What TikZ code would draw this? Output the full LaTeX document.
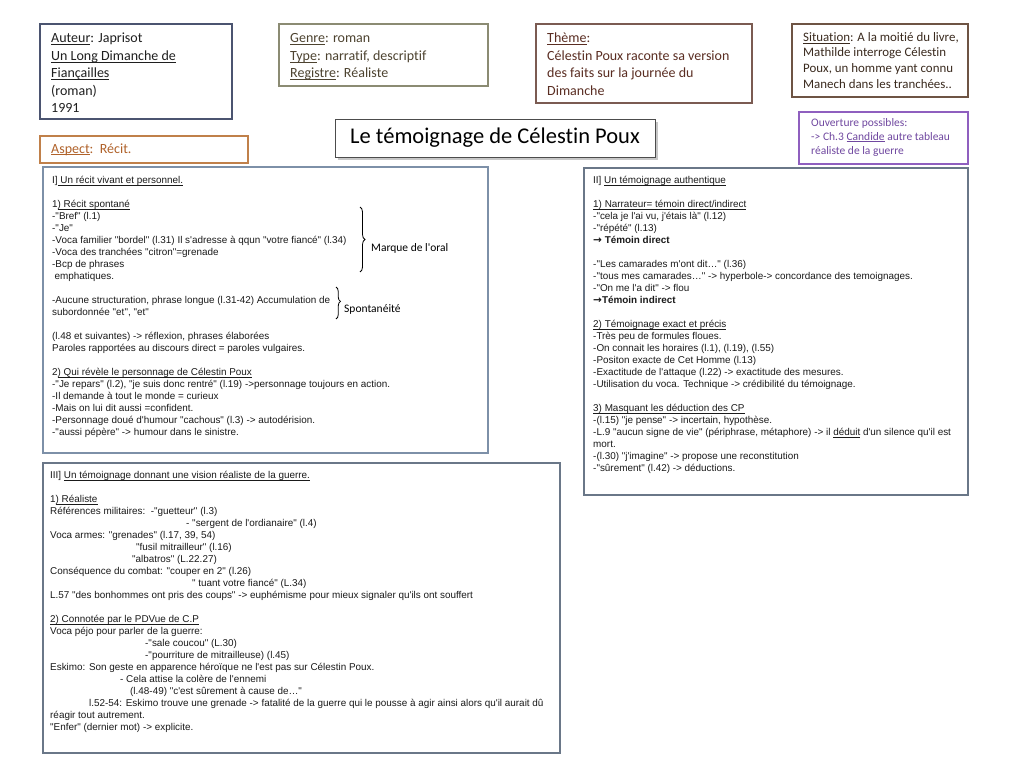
\documentclass[tikz,border=0pt]{standalone}
\usepackage{fontspec}
\newfontfamily\arialf{Liberation Sans}
\newfontfamily\calib[Ligatures=NoCommon]{Carlito}
\newfontfamily\dejav{DejaVu Sans}
\usetikzlibrary{decorations.pathreplacing,shadows}
\newcommand\ulx[2][1.6pt]{\leavevmode\setbox0=\hbox{#2}\rlap{\rule[-#1]{\wd0}{0.55pt}}\box0\relax}
\newcommand\barrow{{\dejav\bfseries\fontsize{10.5}{12}\selectfont →}}
\definecolor{bAut}{HTML}{4B5470}
\definecolor{tAut}{HTML}{1F1F1F}
\definecolor{bGen}{HTML}{8B8B73}
\definecolor{tGen}{HTML}{4D4330}
\definecolor{bThe}{HTML}{7B5B52}
\definecolor{tThe}{HTML}{5A2D22}
\definecolor{bSit}{HTML}{6E5444}
\definecolor{tSit}{HTML}{3A2A1E}
\definecolor{bOuv}{HTML}{8F5FBF}
\definecolor{tOuv}{HTML}{7048A0}
\definecolor{bAsp}{HTML}{C0804A}
\definecolor{tAsp}{HTML}{B0622A}
\definecolor{bMain}{HTML}{7D90A8}
\definecolor{bMainB}{HTML}{6A7788}
\definecolor{tMain}{HTML}{1A1A1A}
\tikzset{
  frame/.style={line width=1.1pt},
  atext/.style={font=\arialf\fontsize{9.9}{12}\selectfont, align=left, inner sep=0pt, text=tMain, anchor=north west},
  ctext/.style={font=\calib\fontsize{14}{17.4}\selectfont, align=left, inner sep=0pt, anchor=north west},
  bracemark/.style={decorate, line width=0.8pt},
  bracelabel/.style={font=\calib\fontsize{11.5}{13}\selectfont, inner sep=0pt, anchor=base west}
}
\begin{document}
\begin{tikzpicture}[x=1pt,y=-1pt]
\fill[white] (0,0) rectangle (1024,768);
\useasboundingbox (0,0) rectangle (1024,768);

% top boxes
\draw[frame, draw=bAut] (40,24) rectangle (232,119);
\node[ctext, text=tAut] (auteur) at (51,30.5) {\strut\ulx[2pt]{Auteur}: Japrisot\\
\ulx[2pt]{Un Long Dimanche de}\\
\ulx[2pt]{Fiançailles}\\
(roman)\\
1991};

\draw[frame, draw=bAsp] (40,136) rectangle (248,163);
\node[font=\calib\fontsize{14}{15}\selectfont, inner sep=0pt, anchor=base west, text=tAsp] (aspect) at (51,153) {\ulx[2pt]{Aspect}:\ \ Récit.};

\draw[frame, draw=bGen] (279,24) rectangle (488,86);
\node[ctext, text=tGen] (genre) at (290,30.5) {\strut\ulx[2pt]{Genre}: roman\\
\ulx[2pt]{Type}: narratif, descriptif\\
\ulx[2pt]{Registre}: Réaliste};

\draw[frame, draw=bThe] (536,24) rectangle (752,103);
\node[ctext, text=tThe] (theme) at (547,30.5) {\strut\ulx[2pt]{Thème}:\\
Célestin Poux raconte sa version\\
des faits sur la journée du\\
Dimanche};

\draw[frame, draw=bSit] (792,24) rectangle (968,97);
\node[ctext, font=\calib\fontsize{12.9}{15.7}\selectfont, text=tSit] (situation) at (803,30) {\strut\ulx[2pt]{Situation}: A la moitié du livre,\\
Mathilde interroge Célestin\\
Poux, un homme yant connu\\
Manech dans les tranchées..};

\draw[frame, draw=bOuv] (799,112) rectangle (968,164);
\node[ctext, font=\calib\fontsize{11.5}{14}\selectfont, text=tOuv] (ouverture) at (811,116) {\strut Ouverture possibles:\\
-> Ch.3 \ulx[1.8pt]{Candide} autre tableau\\
réaliste de la guerre};

% title
\node[draw=black!70, line width=1pt, fill=white, minimum width=320pt, minimum height=38pt, inner sep=0pt,
      drop shadow={shadow xshift=2.5pt, shadow yshift=-2.5pt, opacity=0.4, fill=black!55},
      font=\calib\fontsize{22.5}{26}\selectfont] (title) at (495,138) {Le témoignage de Célestin Poux};

% main boxes
\draw[frame, draw=bMain] (43,167) rectangle (488,453);
\node[atext] (partI) at (52,175) {\strut I]\ulx{ Un récit vivant et personnel.}\\[12pt]
1\ulx{) Récit spontané}\\
-"Bref" (l.1)\\
-"Je"\\
-Voca familier "bordel" (l.31) Il s'adresse à qqun "votre fiancé" (l.34)\\
-Voca des tranchées "citron"=grenade\\
-Bcp de phrases\\
\hspace*{2.5pt}emphatiques.\\[12pt]
-Aucune structuration, phrase longue (l.31-42) Accumulation de\\
subordonnée "et", "et"\\[12pt]
(l.48 et suivantes) -> réflexion, phrases élaborées\\
Paroles rapportées au discours direct = paroles vulgaires.\\[12pt]
2\ulx{) Qui révèle le personnage de Célestin Poux}\\
-"Je repars" (l.2), "je suis donc rentré" (l.19) ->personnage toujours en action.\\
-Il demande à tout le monde = curieux\\
-Mais on lui dit aussi =confident.\\
-Personnage doué d'humour "cachous" (l.3) -> autodérision.\\
-"aussi pépère" -> humour dans le sinistre.};

\coordinate (oralTop) at (360,207);
\coordinate (oralBot) at (360,272);
\draw[bracemark, decoration={brace, amplitude=5pt}] (oralTop) -- (oralBot);
\node[bracelabel] (oral) at (371,251) {Marque de l'oral};

\coordinate (sponTop) at (336,287);
\coordinate (sponBot) at (336,319);
\draw[bracemark, decoration={brace, amplitude=4.5pt, aspect=0.45}] (sponTop) -- (sponBot);
\node[bracelabel] (spon) at (344,312) {Spontanéité};

\draw[frame, draw=bMainB] (584,168) rectangle (968,495);
\node[atext] (partII) at (593,175) {\strut II] \ulx{Un témoignage authentique}\\[12pt]
\ulx{1) Narrateur= témoin direct/indirect}\\
-"cela je l'ai vu, j'étais là" (l.12)\\
-"répété" (l.13)\\
\barrow\ \textbf{Témoin direct}\\[12pt]
-"Les camarades m'ont dit…" (l.36)\\
-"tous mes camarades…" -> hyperbole-> concordance des temoignages.\\
-"On me l'a dit" -> flou\\
\barrow\textbf{Témoin indirect}\\[12pt]
\ulx{2) Témoignage exact et précis}\\
-Très peu de formules floues.\\
-On connait les horaires (l.1), (l.19), (l.55)\\
-Positon exacte de Cet Homme (l.13)\\
-Exactitude de l'attaque (l.22) -> exactitude des mesures.\\
-Utilisation du voca. Technique -> crédibilité du témoignage.\\[12pt]
\ulx{3) Masquant les déduction des CP}\\
-(l.15) "je pense" -> incertain, hypothèse.\\
-L.9 "aucun signe de vie" (périphrase, métaphore) -> il \ulx{déduit} d'un silence qu'il est\\
mort.\\
-(l.30) "j'imagine" -> propose une reconstitution\\
-"sûrement" (l.42) -> déductions.};

\draw[frame, draw=bMainB] (43,463) rectangle (560,753);
\node[atext] (partIII) at (50,470) {\strut III] \ulx{Un témoignage donnant une vision réaliste de la guerre.}\\[12pt]
1\ulx{) Réaliste}\\
Références militaires:\ \ -"guetteur" (l.3)\\
\hspace*{136pt}- "sergent de l'ordianaire" (l.4)\\
Voca armes: "grenades" (l.17, 39, 54)\\
\hspace*{86pt}"fusil mitrailleur" (l.16)\\
\hspace*{82pt}"albatros" (L.22.27)\\
Conséquence du combat: "couper en 2" (l.26)\\
\hspace*{142pt}" tuant votre fiancé" (L.34)\\
L.57 "des bonhommes ont pris des coups" -> euphémisme pour mieux signaler qu'ils ont souffert\\[12pt]
\ulx{2) Connotée par le PDVue de C.P}\\
Voca péjo pour parler de la guerre:\\
\hspace*{95pt}-"sale coucou" (L.30)\\
\hspace*{95pt}-"pourriture de mitrailleuse) (l.45)\\
Eskimo: Son geste en apparence héroïque ne l'est pas sur Célestin Poux.\\
\hspace*{70pt}- Cela attise la colère de l'ennemi\\
\hspace*{80pt}(l.48-49) "c'est sûrement à cause de…"\\
\hspace*{39pt}l.52-54: Eskimo trouve une grenade -> fatalité de la guerre qui le pousse à agir ainsi alors qu'il aurait dû\\
réagir tout autrement.\\
"Enfer" (dernier mot) -> explicite.};
\end{tikzpicture}
\end{document}
